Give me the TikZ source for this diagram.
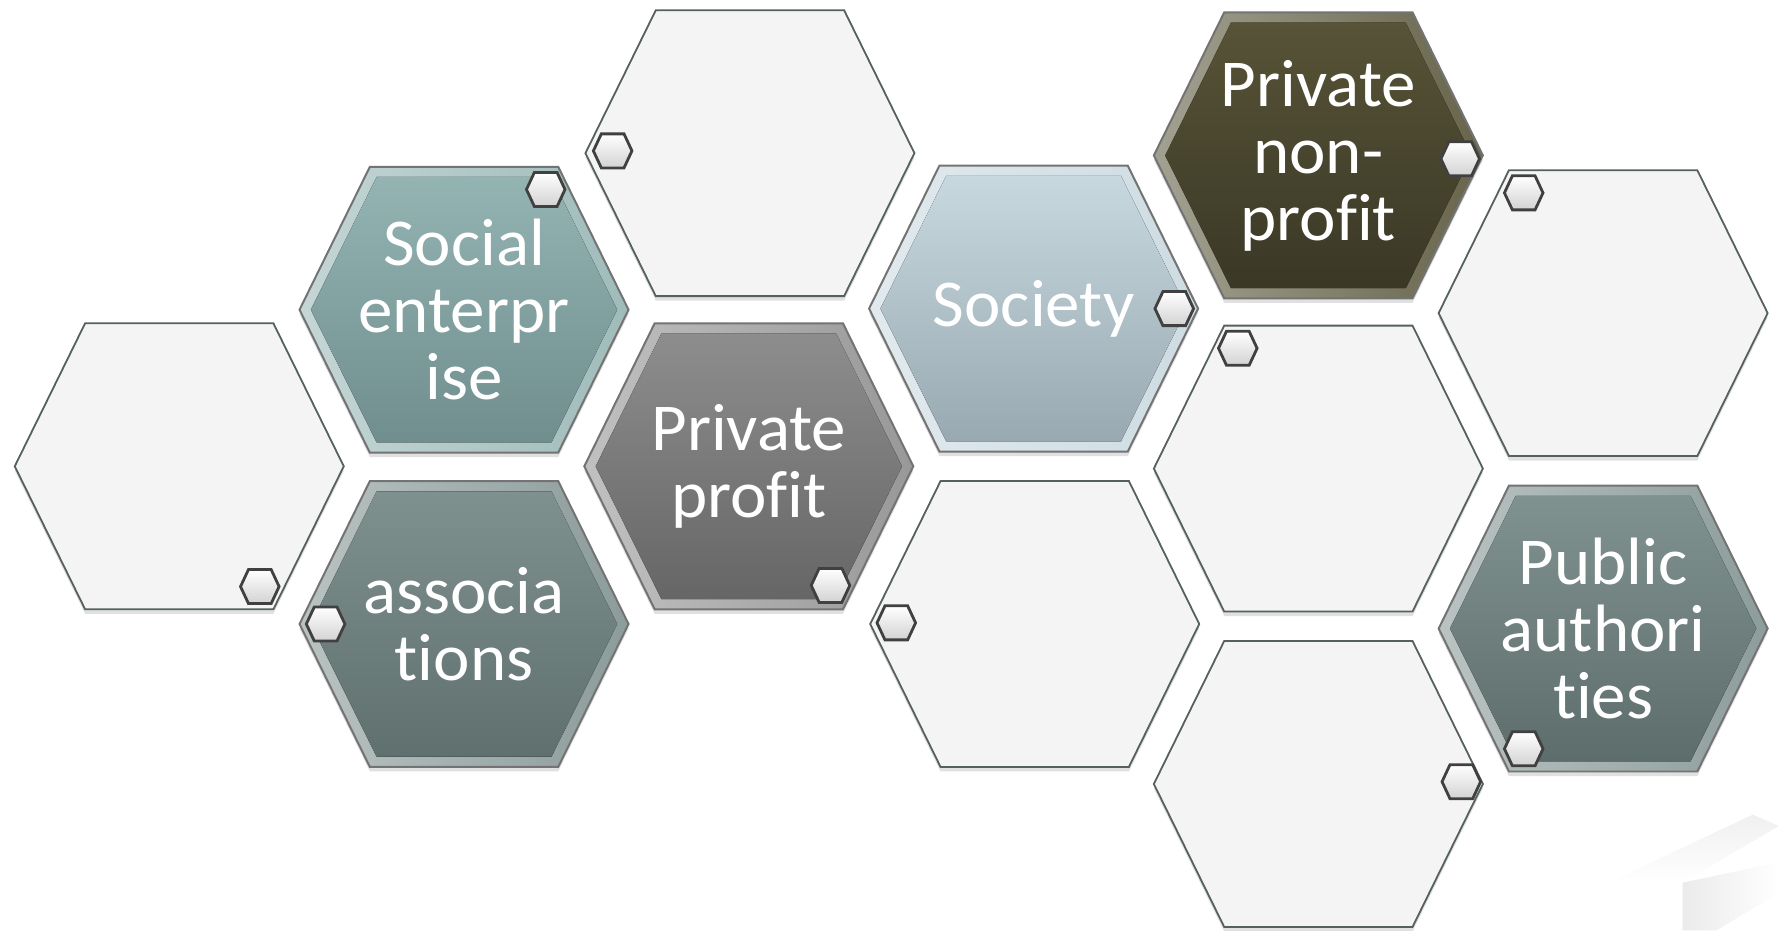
\documentclass[tikz,border=0pt]{standalone}
\usepackage{fontspec}
\usepackage{tikz}
\usetikzlibrary{shapes.geometric, arrows, positioning, calc}
\newfontfamily\hexfont[Ligatures={NoCommon,NoRequired,NoContextual}, FakeStretch=1.03]{Carlito}

\definecolor{cellfill}{HTML}{F4F4F4}
\definecolor{cellline}{HTML}{55605F}
\definecolor{socialtop}{HTML}{94B4B3}
\definecolor{socialbot}{HTML}{6F8E8D}
\definecolor{assoctop}{HTML}{7F918F}
\definecolor{assocbot}{HTML}{5F706E}
\definecolor{profittop}{HTML}{8D8D8D}
\definecolor{profitbot}{HTML}{666666}
\definecolor{societytop}{HTML}{C8D8DF}
\definecolor{societybot}{HTML}{98A9B1}
\definecolor{nonproftop}{HTML}{575337}
\definecolor{nonprofbot}{HTML}{3A3826}
\definecolor{publictop}{HTML}{809290}
\definecolor{publicbot}{HTML}{5D6D6B}

\tikzset{
  hexshadow/.style={fill=black, opacity=0.12},
  emptycell/.style={fill=cellfill, draw=cellline, line width=0.45pt},
  bevel/.style={left color=#1!55!white, right color=#1!90!white, draw=black!55, line width=0.5pt},
  face/.style 2 args={top color=#1, bottom color=#2},
  hexlabel/.style={align=center, text=white, inner sep=0pt,
    font=\hexfont\fontsize{16.8}{16.8}\selectfont},
  hexmarker/.style={top color=white, bottom color=gray!35, draw=black!75, line width=0.7pt}
}

% 六边形: 中心 #1,#2, 样式 #3
\newcommand{\hexcell}[3]{%
  \fill[hexshadow] (#1-145,#2+4) -- (#1-83,#2-122) -- (#1+83,#2-122) -- (#1+145,#2+4) -- (#1+83,#2+130) -- (#1-83,#2+130) -- cycle;
  \draw[#3] (#1-145,#2) -- (#1-83,#2-126) -- (#1+83,#2-126) -- (#1+145,#2) -- (#1+83,#2+126) -- (#1-83,#2+126) -- cycle;
}
\newcommand{\hexface}[3]{%
  \fill[#3] (#1-135,#2) -- (#1-77,#2-117) -- (#1+77,#2-117) -- (#1+135,#2) -- (#1+77,#2+117) -- (#1-77,#2+117) -- cycle;
}
% 小六边形标记
\newcommand{\hexmark}[2]{%
  \draw[hexmarker] (#1-17,#2) -- (#1-10,#2-15) -- (#1+10,#2-15) -- (#1+17,#2) -- (#1+10,#2+15) -- (#1-10,#2+15) -- cycle;
}

\begin{document}
\begin{tikzpicture}[x=0.1mm, y=-0.1mm]
  \useasboundingbox (0,0) rectangle (1568,820);

  % 页角
  \shade[top color=gray!12, bottom color=white] (1417,778) -- (1545,718) -- (1568,728) -- (1483,778) -- cycle;
  \shade[left color=gray!16, right color=white] (1483,778) -- (1483,820) -- (1513,820) -- (1568,787) -- (1568,760) -- cycle;

  % 空白六边形
  \foreach \cx/\cy in {158/411, 661/135, 912/550, 1162/413, 1162/691, 1413/276}
    {\hexcell{\cx}{\cy}{emptycell}}

  % 彩色六边形
  \foreach \cx/\cy/\ct/\cb in {409/273/socialtop/socialbot, 409/550/assoctop/assocbot,
      660/411/profittop/profitbot, 911/272/societytop/societybot,
      1162/137/nonproftop/nonprofbot, 1413/554/publictop/publicbot}
    {\hexcell{\cx}{\cy}{bevel=\ct}
     \hexface{\cx}{\cy}{face={\ct}{\cb}}}

  \node[hexlabel] (social) at (409,273) {Social\\enterpr\\ise};
  \node[hexlabel] (assoc) at (409,550) {associa\\tions};
  \node[hexlabel] (profit) at (660,411) {Private\\profit};
  \node[hexlabel] (society) at (911,272) {Society};
  \node[hexlabel] (nonprofit) at (1162,137) {Private\\non-\\profit};
  \node[hexlabel] (public) at (1413,554) {Public\\authori\\ties};

  % 标记
  \foreach \mx/\my in {540/133, 481/167, 229/517, 287/550, 732/516, 1035/272,
      790/549, 1287/140, 1091/307, 1343/170, 1343/660, 1288/689}
    {\hexmark{\mx}{\my}}
\end{tikzpicture}
\end{document}
